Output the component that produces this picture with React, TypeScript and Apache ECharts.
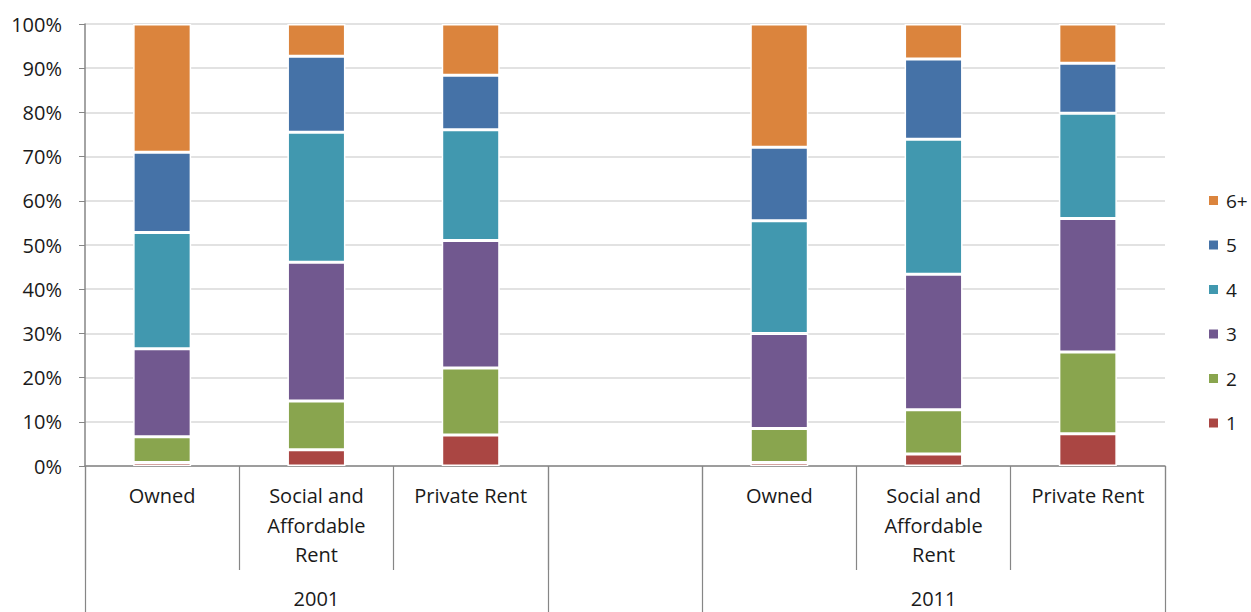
import React, { useEffect, useRef } from "react";
import * as echarts from "echarts";

const categories = [
  "2001|Owned",
  "2001|Social and\nAffordable\nRent",
  "2001|Private Rent",
  "gap|",
  "2011|Owned",
  "2011|Social and\nAffordable\nRent",
  "2011|Private Rent",
];
const groupLabels = ["", "2001", "", "", "", "2011", ""];
const yTicks = [0, 10, 20, 30, 40, 50, 60, 70, 80, 90, 100];

const seriesNames = ["1", "2", "3", "4", "5", "6+"];
const s1 = [0.8, 3.7, 7.0, null, 0.8, 2.7, 7.3];
const s2 = [5.8, 11.0, 15.2, null, 7.7, 10.0, 18.5];
const s3 = [19.9, 31.4, 28.8, null, 21.5, 30.7, 30.2];
const s4 = [26.3, 29.4, 25.1, null, 25.5, 30.5, 23.8];
const s5 = [18.2, 17.2, 12.3, null, 16.6, 18.2, 11.3];
const s6 = [29.0, 7.3, 11.6, null, 27.9, 7.9, 8.9];
const seriesValues = [s1, s2, s3, s4, s5, s6];
const colors = ["#AA4643", "#89A54E", "#71588F", "#4198AF", "#4572A7", "#DB843D"];

const FONT = "Open Sans";
const FS = 20;
const TEXT = "#1a1a1a";
const AXIS = "#868686";

export default function App() {
  const ref = useRef<HTMLDivElement>(null);
  useEffect(() => {
    if (!ref.current) return;
    const chart = echarts.init(ref.current, null, { renderer: "svg" });
    const option: any = {
      animation: false,
      textStyle: { fontFamily: FONT },
      grid: { left: 85, right: 86, top: 24, bottom: 146, containLabel: false },
      legend: {
        orient: "vertical",
        left: 1207,
        top: 191,
        padding: 0,
        itemWidth: 11,
        itemHeight: 11,
        itemGap: 25.5,
        icon: "rect",
        data: ["6+", "5", "4", "3", "2", "1"],
        textStyle: { fontFamily: FONT, fontSize: 19, color: TEXT, padding: [0, 0, 0, 2] },
      },
      xAxis: [
        {
          type: "category",
          data: categories,
          position: "bottom",
          axisLine: { lineStyle: { color: AXIS, width: 1.5 } },
          axisTick: { show: true, interval: 0, length: 104, lineStyle: { color: AXIS, width: 1.2 } },
          axisLabel: {
            interval: 0,
            margin: 15,
            fontFamily: FONT,
            fontSize: FS,
            color: TEXT,
            lineHeight: 29.5,
            formatter: (v: string) => v.split("|")[1],
          },
          splitLine: { show: false },
        },
        {
          type: "category",
          data: categories,
          position: "bottom",
          offset: 0,
          axisLine: { show: false },
          axisTick: {
            show: true,
            length: 146,
            interval: (i: number) => i === 0 || i === 3 || i === 4,
            lineStyle: { color: AXIS, width: 1.2 },
          },
          axisLabel: {
            interval: 0,
            margin: 122,
            fontFamily: FONT,
            fontSize: FS,
            color: TEXT,
            lineHeight: 20,
            formatter: (_v: string, i: number) => groupLabels[i],
          },
          splitLine: { show: false },
        },
      ],
      yAxis: {
        type: "value",
        min: yTicks[0],
        max: yTicks[yTicks.length - 1],
        interval: 10,
        axisLine: { show: true, lineStyle: { color: AXIS, width: 1.5 } },
        axisTick: { show: true, length: 6, lineStyle: { color: AXIS } },
        axisLabel: {
          formatter: "{value}%",
          fontFamily: FONT,
          fontSize: FS,
          color: TEXT,
          margin: 23,
        },
        splitLine: { lineStyle: { color: "#D9D9D9", width: 1.5 } },
      },
      series: seriesNames.map((name, k) => ({
        name,
        type: "bar",
        stack: "total",
        barWidth: 58,
        xAxisIndex: 0,
        data: seriesValues[k],
        itemStyle: { color: colors[k], borderColor: "#ffffff", borderWidth: 1.5 },
      })),
    };
    chart.setOption(option);
    return () => chart.dispose();
  }, []);
  return (
    <div
      ref={ref}
      style={{ position: "fixed", left: 0, top: 0, width: 1251, height: 612, background: "#fff" }}
    />
  );
}
